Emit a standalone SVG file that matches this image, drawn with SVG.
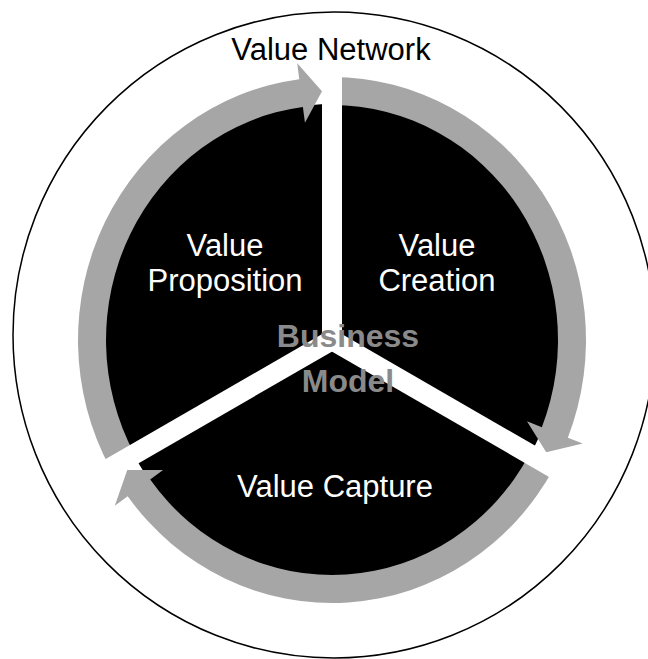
<svg xmlns="http://www.w3.org/2000/svg" width="648" height="659" viewBox="0 0 648 659">
  <style>
    .lbl { font-family: "Liberation Sans", Arial, sans-serif; font-size: 31px; text-anchor: middle; }
    .inner { fill: #ffffff; }
    .core { font-family: "Liberation Sans", Arial, sans-serif; font-size: 32px; font-weight: bold; fill: #8a8a8a; text-anchor: middle; }
    .ring { fill: #a6a6a6; }
    .spoke { stroke: #ffffff; stroke-width: 20; stroke-linecap: butt; }
  </style>
  <rect width="648" height="659" fill="#ffffff"/>

  <!-- value network boundary -->
  <g id="value-network">
    <ellipse cx="334" cy="335" rx="321" ry="323" fill="none" stroke="#000000" stroke-width="1.5"/>
    <text class="lbl" x="331" y="60" fill="#000000">Value Network</text>
  </g>

  <!-- business model disk -->
  <g id="business-model-disk">
    <ellipse cx="332" cy="340" rx="227" ry="236" fill="#000000"/>
  </g>

  <!-- clockwise cycle arrows around the disk -->
  <g id="connectors">
    <path class="ring" d="M332 77 A254 263 0 0 1 567.84 437.67 L582.69 443.61 L546.22 452.27 L526.98 421.33 L541.84 427.27 A226 235 0 0 0 332 105 Z"/>
    <path class="ring" d="M553.93 467.89 A254 263 0 0 1 127.68 496.24 L114.81 505.75 L127.27 469.93 L163.07 470.10 L150.20 479.61 A226 235 0 0 0 529.46 454.28 Z"/>
    <path class="ring" d="M110.07 467.89 A254 263 0 0 1 299.28 79.19 L297.22 63.32 L321.99 91.22 L304.95 122.82 L302.89 106.96 A226 235 0 0 0 134.54 454.28 Z"/>
  </g>

  <!-- dividers between the three parts -->
  <g id="dividers">
    <line class="spoke" x1="332" y1="340" x2="332" y2="62"/>
    <line class="spoke" x1="332" y1="340" x2="574.5" y2="480"/>
    <line class="spoke" x1="332" y1="340" x2="89.5" y2="480"/>
    <circle cx="332" cy="340" r="10" fill="#ffffff"/>
  </g>

  <g id="value-proposition">
    <text class="lbl inner" x="225" y="256">Value</text>
    <text class="lbl inner" x="225" y="291">Proposition</text>
  </g>

  <g id="value-creation">
    <text class="lbl inner" x="437" y="256">Value</text>
    <text class="lbl inner" x="437" y="291">Creation</text>
  </g>

  <g id="value-capture">
    <text class="lbl inner" x="335" y="497">Value Capture</text>
  </g>

  <g id="business-model">
    <text class="core" x="348" y="347">Business</text>
    <text class="core" x="348" y="392">Model</text>
  </g>
</svg>
